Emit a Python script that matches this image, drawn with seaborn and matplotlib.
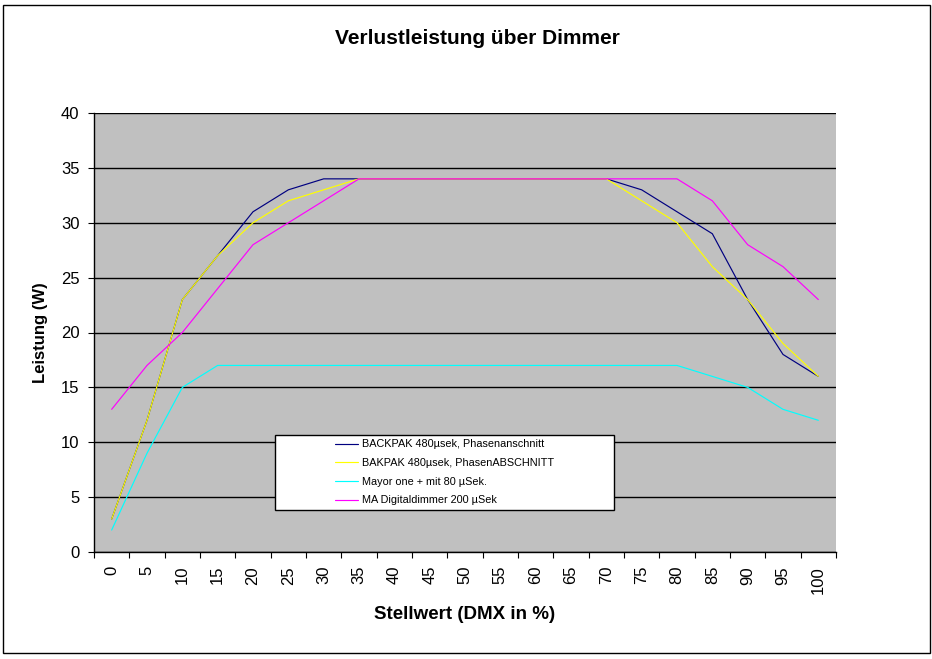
import numpy as np
import pandas as pd
import matplotlib
matplotlib.use("Agg")
import matplotlib.pyplot as plt
from matplotlib.patches import Rectangle
import seaborn as sns

# Stellwert (DMX in %)
stellwert = [0, 5, 10, 15, 20, 25, 30, 35, 40, 45, 50, 55, 60, 65, 70, 75, 80, 85, 90, 95, 100]

backpak_anschnitt = [3, 12, 23, 27, 31, 33, 34, 34, 34, 34, 34, 34, 34, 34, 34, 33, 31, 29, 23, 18, 16]
bakpak_abschnitt = [3, 12, 23, 27, 30, 32, 33, 34, 34, 34, 34, 34, 34, 34, 34, 32, 30, 26, 23, 19, 16]
mayor_one = [2, 9, 15, 17, 17, 17, 17, 17, 17, 17, 17, 17, 17, 17, 17, 17, 17, 16, 15, 13, 12]
ma_digital = [13, 17, 20, 24, 28, 30, 32, 34, 34, 34, 34, 34, 34, 34, 34, 34, 34, 32, 28, 26, 23]

namen = ["BACKPAK 480µsek, Phasenanschnitt", "BAKPAK 480µsek, PhasenABSCHNITT",
         "Mayor one + mit 80 µSek.", "MA Digitaldimmer 200 µSek"]
farben = ["#000080", "#FFFF00", "#00FFFF", "#FF00FF"]

df = pd.DataFrame({"Stellwert": stellwert * 4,
                   "Leistung": backpak_anschnitt + bakpak_abschnitt + mayor_one + ma_digital,
                   "Serie": [n for n in namen for _ in stellwert]})

sns.set_style("white")
plt.rcParams['font.family'] = ['Liberation Sans', 'DejaVu Sans']
plt.rcParams.update({"text.color": "black", "axes.labelcolor": "black",
                     "xtick.color": "black", "ytick.color": "black"})

fig = plt.figure(figsize=(9.32, 6.59), dpi=100)
ax = fig.add_axes([94 / 932, 1 - 552 / 659, 742 / 932, 439 / 659])
ax.set_facecolor("#C0C0C0")

sns.lineplot(data=df, x="Stellwert", y="Leistung", hue="Serie", hue_order=namen,
             palette=farben, linewidth=0.85, ax=ax, legend=False, zorder=3)

ax.set_xlim(-2.5, 102.5)
ax.set_ylim(0, 40)
ax.set_yticks(np.arange(0, 41, 5))
ax.set_xticks(stellwert)
ax.set_xticklabels([str(s) for s in stellwert], rotation=90, fontsize=12)
ax.set_xticks(np.arange(-2.5, 103, 5), minor=True)
ax.tick_params(axis="x", which="major", length=0, pad=10)
ax.tick_params(axis="x", which="minor", length=4, width=0.8, color="black", direction="out", bottom=True)
ax.tick_params(axis="y", length=4.5, width=0.8, color="black", direction="out", left=True, labelsize=12, pad=6)
ax.grid(axis="y", color="black", linewidth=1.0)
ax.grid(axis="x", visible=False)
ax.set_axisbelow(True)
for s in ["top", "right"]:
    ax.spines[s].set_visible(False)
for s in ["left", "bottom"]:
    ax.spines[s].set_color("black")
    ax.spines[s].set_linewidth(1.0)

ax.set_xlabel("Stellwert (DMX in %)", fontsize=13.5, fontweight="bold", labelpad=9)
ax.set_ylabel("Leistung (W)", fontsize=12, fontweight="bold", labelpad=9)

fig.text(477 / 932, 1 - 38 / 659, "Verlustleistung über Dimmer", fontsize=15, fontweight="bold",
         ha="center", va="center")

# Legendenkasten wie in Excel
ax.add_patch(Rectangle((0.244, 0.0957), 0.457, 0.171, transform=ax.transAxes,
                       facecolor="white", edgecolor="black", linewidth=1.0, zorder=5))
handles = [plt.Line2D([], [], color=c, linewidth=0.85) for c in farben]
leg = ax.legend(handles, namen, loc="center", bbox_to_anchor=(0.244 + 0.457 / 2, 0.0957 + 0.171 / 2),
                frameon=False, fontsize=7.8, handlelength=2.1, handletextpad=0.4, labelspacing=0.8)
leg.set_zorder(6)

fig.patches.append(Rectangle((3 / 932, 6 / 659), 927 / 932, 648 / 659, transform=fig.transFigure,
                             fill=False, edgecolor="black", linewidth=1.0))

fig.savefig("out.png", dpi=100, facecolor="white")
